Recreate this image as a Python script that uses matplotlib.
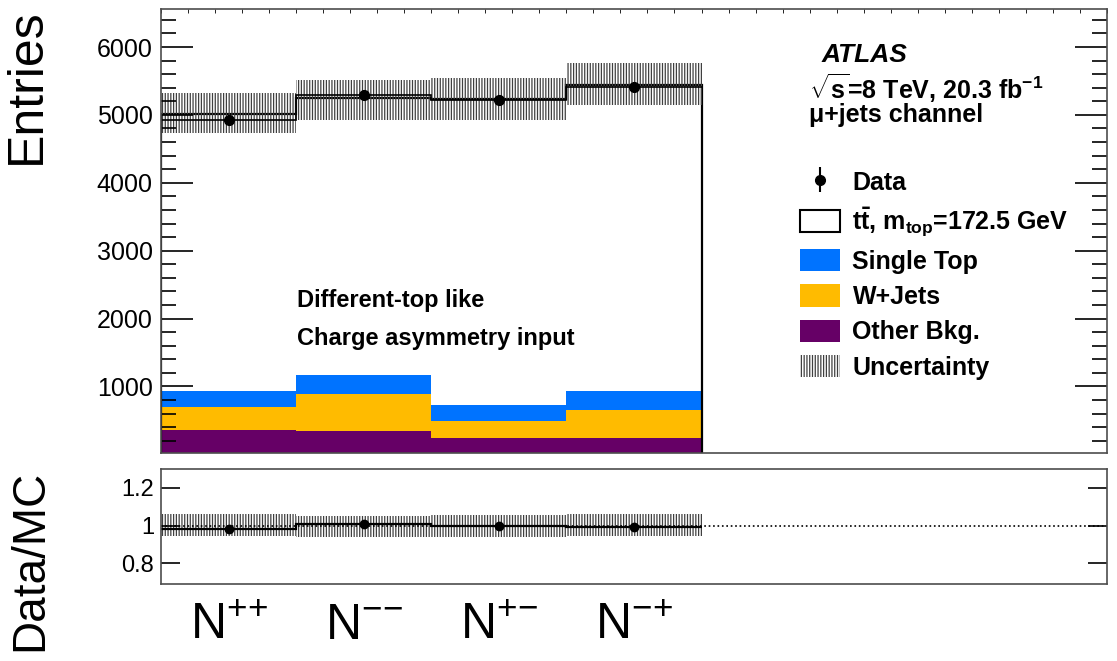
import numpy as np
import matplotlib
matplotlib.use('Agg')
import matplotlib.pyplot as plt
from matplotlib.patches import Patch
from matplotlib.ticker import MultipleLocator

plt.rcParams['font.family'] = ['Liberation Sans', 'DejaVu Sans']
plt.rcParams['mathtext.fontset'] = 'custom'
plt.rcParams['mathtext.rm'] = 'Liberation Sans'
plt.rcParams['mathtext.bf'] = 'Liberation Sans:bold'
plt.rcParams['mathtext.it'] = 'Liberation Sans:italic'
plt.rcParams['hatch.linewidth'] = 0.9

# bin contents
bin_labels = [r'N$^{{+}{+}}$', r'N$^{{-}{-}}$', r'N$^{{+}{-}}$', r'N$^{{-}{+}}$']
n_bins = 7
other_bkg = [362, 348, 240, 235]
w_jets = [339, 540, 255, 412]
single_top = [236, 280, 235, 290]
mc_total = [5020, 5247, 5237, 5443]
data = [4930, 5295, 5222, 5410]
unc_lo = [4732, 4928, 4928, 5148]
unc_hi = [5321, 5517, 5542, 5763]

c_other = '#660066'
c_wjets = '#ffbb00'
c_stop = '#0073ff'
c_unc = '0.25'
unc_hatch = '||||||'

ymin, ymax = 20, 6560

fig = plt.figure(figsize=(11.17, 6.61), dpi=100)
ax = fig.add_axes([0.1441, 0.3147, 0.8469, 0.6717])
rax = fig.add_axes([0.1441, 0.1165, 0.8469, 0.174])

edges = np.arange(len(data) + 1)
centers = edges[:-1] + 0.5
mc = np.array(mc_total, dtype=float)
d = np.array(data, dtype=float)

# stacked backgrounds + ttbar
b1 = np.array(other_bkg, dtype=float)
b2 = b1 + np.array(w_jets)
b3 = b2 + np.array(single_top)
ax.stairs(b1, edges, baseline=ymin, fill=True, color=c_other)
ax.stairs(b2, edges, baseline=b1, fill=True, color=c_wjets)
ax.stairs(b3, edges, baseline=b2, fill=True, color=c_stop)
ax.stairs(mc, edges, baseline=b3, fill=True, color='white')
ax.stairs(mc, edges, baseline=ymin, color='black', lw=1.6)

# uncertainty band
ax.stairs(unc_hi, edges, baseline=unc_lo, fill=True, facecolor='none',
          edgecolor=c_unc, hatch=unc_hatch, lw=0)

# data
ax.stairs(d, edges, baseline=None, color='black', lw=1.2)
dat = ax.errorbar(centers, d, yerr=np.sqrt(d), fmt='o', color='black',
                  ms=7, elinewidth=1.5, capsize=0)

ax.set_xlim(0, n_bins)
ax.set_ylim(ymin, ymax)
ax.yaxis.set_minor_locator(MultipleLocator(200))
ax.set_yticks([1000, 2000, 3000, 4000, 5000, 6000])
ax.xaxis.set_minor_locator(MultipleLocator(0.2))
ax.set_xticks([])
ax.tick_params(axis='y', which='major', direction='in', length=23, width=1.2,
               right=True, labelsize=18, pad=6)
ax.tick_params(axis='y', which='minor', direction='in', length=11, width=1.2,
               right=True)
ax.tick_params(axis='x', which='minor', direction='in', length=3, top=True,
               bottom=False)
for s in ax.spines.values():
    s.set_color('0.3')
    s.set_linewidth(1.2)

fig.text(27 / 1117, 1 - 8 / 661, 'Entries', rotation=90, ha='center',
         va='top', fontsize=36)

# labels
ax.text(0.698, 0.896, 'ATLAS', transform=ax.transAxes, fontsize=19,
        fontweight='bold', fontstyle='italic', va='center')
ax.text(0.685, 0.822, r'$\mathbf{\sqrt{s}}$=8 TeV, 20.3 fb$^{\mathbf{-1}}$',
        transform=ax.transAxes, fontsize=18, fontweight='bold', va='center')
ax.text(0.685, 0.761, 'μ+jets channel', transform=ax.transAxes, fontsize=18,
        fontweight='bold', va='center')
ax.text(0.144, 0.344, 'Different-top like', transform=ax.transAxes,
        fontsize=17, fontweight='bold', va='center')
ax.text(0.144, 0.258, 'Charge asymmetry input', transform=ax.transAxes,
        fontsize=17, fontweight='bold', va='center')

handles = [
    dat,
    Patch(facecolor='white', edgecolor='black', lw=1.5),
    Patch(facecolor=c_stop),
    Patch(facecolor=c_wjets),
    Patch(facecolor=c_other),
    Patch(facecolor='none', edgecolor=c_unc, hatch=unc_hatch, lw=0),
]
labels = ['Data', r'$\mathbf{t\bar{t}}$, m$_{\mathbf{top}}$=172.5 GeV',
          'Single Top', 'W+Jets', 'Other Bkg.', 'Uncertainty']
leg = fig.legend(handles, labels, loc='upper left',
                 bbox_to_anchor=(800 / 1117, 1 - 170 / 661), frameon=False,
                 prop={'size': 18, 'weight': 'bold'}, borderpad=0,
                 borderaxespad=0, handlelength=1.6, handleheight=1.0,
                 handletextpad=0.5, labelspacing=0.42)

# ratio panel
r = d / mc
rax.stairs(np.array(unc_hi) / mc, edges, baseline=np.array(unc_lo) / mc,
           fill=True, facecolor='none', edgecolor=c_unc, hatch=unc_hatch, lw=0)
rax.axhline(1.0, color='black', ls=':', lw=1.2)
rax.stairs(r, edges, baseline=None, color='black', lw=1.6)
rax.errorbar(centers, r, yerr=np.sqrt(d) / mc, fmt='o', color='black',
             ms=6, elinewidth=1.5, capsize=0)
rax.set_xlim(0, n_bins)
rax.set_ylim(0.69, 1.3)
rax.set_yticks([0.8, 1.0, 1.2])
rax.set_yticklabels(['0.8', '1', '1.2'])
rax.set_xticks(centers)
rax.set_xticklabels(bin_labels)
rax.tick_params(axis='y', direction='in', length=14, width=1.2, right=True,
                labelsize=17, pad=5)
rax.tick_params(axis='x', length=0, labelsize=36, pad=14)
for s in rax.spines.values():
    s.set_color('0.3')
    s.set_linewidth(1.2)

fig.text(30 / 1117, 1 - 470 / 661, 'Data/MC', rotation=90, ha='center',
         va='top', fontsize=33)

fig.savefig('out.png', dpi=100)
